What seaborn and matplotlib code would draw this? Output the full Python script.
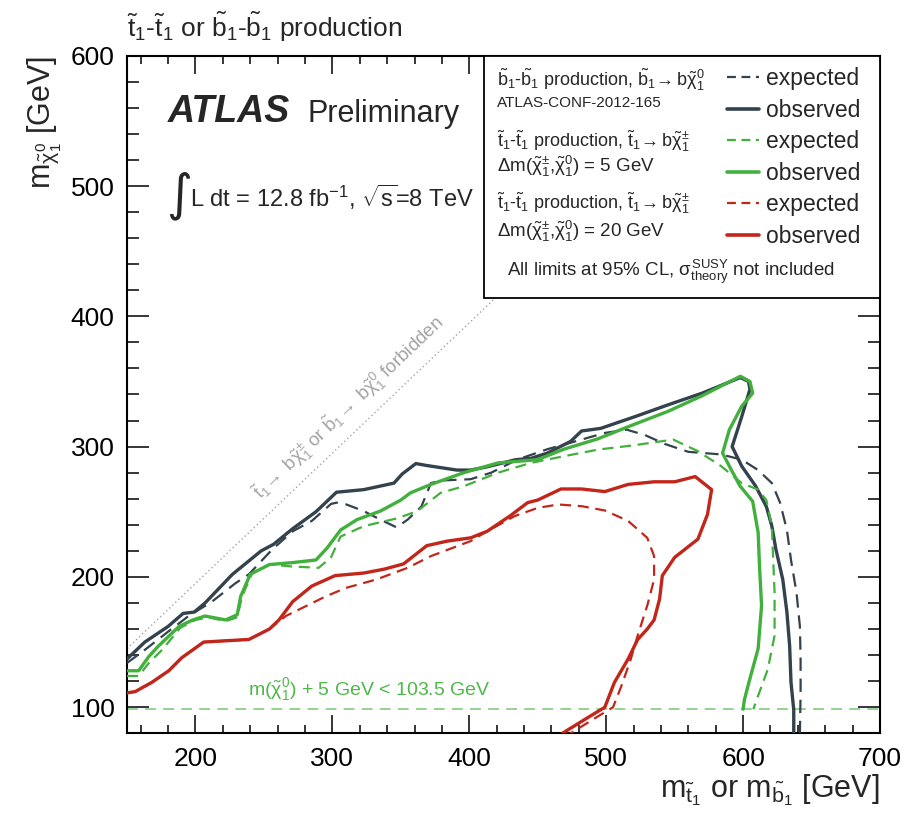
import numpy as np
import pandas as pd
import matplotlib
matplotlib.use("Agg")
import matplotlib.pyplot as plt
from matplotlib.lines import Line2D
from matplotlib.patches import Rectangle
from matplotlib.ticker import MultipleLocator
import seaborn as sns

# ---- exclusion contours (m_stop/m_sbottom [GeV], m_LSP [GeV]) ----
sb_obs_x = [150, 163, 180, 191, 199, 207, 227, 248, 257, 271, 288, 303, 323, 345, 351, 361, 369,
            391, 401, 413, 434, 445, 457, 474, 482, 496, 521, 545, 570, 598, 604, 605, 599, 592,
            599, 609, 617, 621, 624, 629, 632, 634, 635, 637, 637]
sb_obs_y = [137, 150, 162, 172, 173, 180, 202, 220, 225, 237, 250, 265, 267, 272, 279, 287, 285.5,
            282, 282, 284.5, 290, 291, 295, 304, 312, 314, 323, 332, 341, 353, 350, 344, 323, 300,
            285, 270, 254, 239, 221, 198, 173, 147, 119, 98, 80]

sb_exp_x = [150, 163, 180, 195, 212, 229, 239, 256, 271, 285, 299, 303, 308, 323, 335, 347, 355,
            365, 372, 379, 401, 416, 435, 457, 474, 499, 515, 528, 543, 560, 584, 599, 611, 621,
            627, 632, 635, 639, 641.5, 642, 642, 641.5]
sb_exp_y = [134, 144, 158, 170, 181, 195, 202, 221, 235, 243, 256, 257, 256.5, 250.5, 244, 238, 244,
            254, 272, 274, 275, 280, 290, 298, 303, 310.5, 313, 309, 302, 296, 294, 290, 282, 272,
            257, 236, 213, 188, 162, 137, 111, 80]

t5_obs_x = [150, 158.5, 166, 173, 188, 198, 207, 222, 230.5, 233, 240, 254, 271, 288, 296, 306, 318,
            335, 350, 357, 372, 396, 421, 450, 469, 494, 519, 545, 570, 598, 605, 607, 599, 590,
            585, 591.5, 597.6, 607, 611, 612, 613.5, 611, 605, 601, 600]
t5_obs_y = [128, 128, 139, 147, 162, 167, 170, 167, 171, 185, 202, 209.5, 211, 213, 222, 236, 244,
            250.5, 259, 264.5, 271, 280, 287.5, 290, 298, 306, 316.5, 327, 339, 354, 350, 341, 331,
            313, 295, 282, 270, 258, 234, 208, 178, 145, 122, 106, 98.5]

t5_exp_x = [150, 158.5, 166, 175.6, 189, 200, 210, 222, 230.5, 234, 241.5, 254, 271, 290, 299, 306,
            323, 347.5, 362, 379, 396, 421, 445, 469, 494, 520, 549, 567, 584, 599, 611, 617, 621,
            622, 623, 623, 618, 610, 607.5]
t5_exp_y = [124, 124, 134, 144, 161, 167, 169, 166, 169, 185, 203, 209.5, 208, 207, 215, 231,
            239, 245, 250.5, 264.5, 269.6, 280, 287.5, 292.6, 297.7, 301, 305.4, 296.5, 285, 272,
            267, 259, 239, 213, 188, 155, 129, 106, 98.5]

t20_obs_x = [150, 156, 168, 180.5, 190, 206, 222, 239, 254, 261, 271, 285, 302, 323, 338, 352, 369,
             384, 401, 413, 430, 442.6, 450, 467, 482, 499, 516, 535, 550, 565, 577, 574, 567, 550,
             541, 539, 535, 530, 523, 516, 506, 499, 486.5, 468]
t20_obs_y = [111, 112, 119, 128, 138, 150, 151, 152, 160, 167, 181, 193, 201, 203, 206, 210, 224,
             227.5, 230, 235, 247, 257, 259, 267.5, 267.5, 265.5, 271, 273, 273, 277, 267, 248, 229,
             215, 201, 183, 167, 160, 152, 137, 119, 100, 92, 80]

t20_exp_x = [150, 156, 168, 180.5, 190, 206, 222, 239, 254, 266, 280.5, 295, 310, 332, 355, 372,
             401, 411, 433, 450, 465, 482, 499, 516, 530, 535, 535, 530, 523, 518, 511, 505, 494,
             474]
t20_exp_y = [111, 112, 119, 128, 138, 150, 151, 152, 160, 170, 177.5, 185, 191.6, 198, 207, 216,
             227.5, 233.8, 246.6, 253, 255.6, 254.3, 251, 243, 230, 216, 198, 178, 155, 137, 116,
             100, 93, 80]

lep_limit = 98.5          # m(chi0) + 5 GeV < 103.5 GeV
kin_offset = 5            # kinematic boundary m_LSP = m_sq - 5 GeV

x_ticks = [200, 300, 400, 500, 600, 700]
y_ticks = [100, 200, 300, 400, 500, 600]

# ---- style ----
sns.set_style("ticks")
plt.rcParams.update({
    "font.family": ["Liberation Sans", "DejaVu Sans"],
    "mathtext.fontset": "custom",
    "mathtext.rm": "Liberation Sans",
    "mathtext.it": "Liberation Sans",
    "mathtext.sf": "Liberation Sans",
    "mathtext.bf": "Liberation Sans:bold",
    "axes.linewidth": 1.5,
})

DARK = "#33424c"
GREEN = "#42b03c"
RED = "#c2261a"
LIGHTGREEN = "#8ccf86"
GRAY = "#a3a3a3"

fig = plt.figure(figsize=(9.08, 8.15), dpi=100)
ax = fig.add_axes([127 / 908, 1 - 733.3 / 815, 753 / 908, 677.6 / 815])

curves = [
    (sb_obs_x, sb_obs_y, DARK, 2.4, "-"),
    (sb_exp_x, sb_exp_y, DARK, 1.6, (0, (6, 3.5))),
    (t5_obs_x, t5_obs_y, GREEN, 2.4, "-"),
    (t5_exp_x, t5_exp_y, GREEN, 1.6, (0, (5, 3))),
    (t20_obs_x, t20_obs_y, RED, 2.4, "-"),
    (t20_exp_x, t20_exp_y, RED, 1.6, (0, (5, 3))),
]
for xs, ys, col, lw, ls in curves:
    df = pd.DataFrame({"m_sq": xs, "m_lsp": ys})
    sns.lineplot(data=df, x="m_sq", y="m_lsp", sort=False, estimator=None,
                 color=col, linewidth=lw, linestyle=ls, ax=ax, zorder=3)

# LEP limit and kinematic boundary
ax.axhline(lep_limit, color=LIGHTGREEN, lw=1.3, ls=(0, (6, 4)), zorder=2)
xb = np.array([150, 700])
ax.plot(xb, xb - kin_offset, color=GRAY, lw=1.0, ls=(0, (1, 2)), zorder=2)

ax.set_xlim(150, 700)
ax.set_ylim(80, 600)
ax.set_xticks(x_ticks)
ax.set_yticks(y_ticks)
ax.xaxis.set_minor_locator(MultipleLocator(20))
ax.yaxis.set_minor_locator(MultipleLocator(20))
ax.tick_params(which="both", direction="in", top=True, right=True, width=1.1,
               labelsize=19, colors="black")
ax.tick_params(axis="x", which="major", length=13, pad=10)
ax.tick_params(axis="x", which="minor", length=6)
ax.tick_params(axis="y", which="major", length=16, pad=9)
ax.tick_params(axis="y", which="minor", length=8.5)
ax.set_xlabel("")
ax.set_ylabel("")
for s in ax.spines.values():
    s.set_visible(True)
    s.set_color("black")

# axis titles
ax.text(1.0, -0.094, r"m$_{\tilde{t}_1}$ or m$_{\tilde{b}_1}$ [GeV]", transform=ax.transAxes,
        ha="right", va="baseline", fontsize=22)
ax.text(-0.109, 1.0, r"m$_{\tilde{\chi}_1^0}$ [GeV]", transform=ax.transAxes,
        ha="center", va="top", rotation=90, fontsize=22)
fig.text(127 / 908, 1 - 36.7 / 815,
         r"$\tilde{t}_1$-$\tilde{t}_1$ or $\tilde{b}_1$-$\tilde{b}_1$ production",
         fontsize=19, va="baseline")

# experiment labels
ax.text(0.0545, 0.902, "ATLAS", transform=ax.transAxes, fontsize=27,
        fontweight="bold", fontstyle="italic", va="baseline")
ax.text(0.24, 0.902, "Preliminary", transform=ax.transAxes, fontsize=22, va="baseline")
ax.text(0.052, 0.794, "\u222b", transform=ax.transAxes, fontsize=36,
        family="DejaVu Sans", va="center")
ax.text(0.0837, 0.777, r"L dt = 12.8 fb$^{-1}$, $\sqrt{\mathrm{s}}$=8 TeV",
        transform=ax.transAxes, fontsize=17, va="baseline")

# boundary annotations
ang = np.degrees(np.arctan2(1.305, 1.3655))
ax.text(312, 330, r"$\tilde{t}_1\!\rightarrow$ b$\tilde{\chi}_1^{\pm}$ or $\tilde{b}_1\!\rightarrow$ b$\tilde{\chi}_1^0$ forbidden",
        rotation=ang, rotation_mode="anchor", ha="center", va="center",
        fontsize=13.5, color=GRAY)
ax.text(238.6, 113.8, r"m($\tilde{\chi}_1^0$) + 5 GeV < 103.5 GeV", fontsize=14,
        color="#4db848", va="center")

# legend panel
ax.add_patch(Rectangle((0.4735, 0.642), 0.5265, 0.358, transform=ax.transAxes,
                       facecolor="white", edgecolor="black", lw=1.3, zorder=4))
tx = 0.491
panel = [
    (0.9641, r"$\tilde{b}_1$-$\tilde{b}_1$ production, $\tilde{b}_1\!\rightarrow$b$\tilde{\chi}_1^0$", 13),
    (0.9298, "ATLAS-CONF-2012-165", 11),
    (0.8731, r"$\tilde{t}_1$-$\tilde{t}_1$ production, $\tilde{t}_1\!\rightarrow$b$\tilde{\chi}_1^{\pm}$", 13),
    (0.8362, r"$\Delta$m($\tilde{\chi}_1^{\pm}$,$\tilde{\chi}_1^0$) = 5 GeV", 13.5),
    (0.7821, r"$\tilde{t}_1$-$\tilde{t}_1$ production, $\tilde{t}_1\!\rightarrow$b$\tilde{\chi}_1^{\pm}$", 13),
    (0.7403, r"$\Delta$m($\tilde{\chi}_1^{\pm}$,$\tilde{\chi}_1^0$) = 20 GeV", 13.5),
]
for yy, s, fs in panel:
    ax.text(tx, yy, s, transform=ax.transAxes, fontsize=fs, va="center", zorder=6)
ax.text(0.505, 0.6813, r"All limits at 95% CL, $\sigma^{\mathrm{SUSY}}_{\mathrm{theory}}$ not included",
        transform=ax.transAxes, fontsize=13.5, va="center", zorder=6)

handles = [
    Line2D([], [], color=DARK, lw=1.6, ls=(0, (4, 2.5))),
    Line2D([], [], color=DARK, lw=2.6),
    Line2D([], [], color=GREEN, lw=1.6, ls=(0, (4, 2.5))),
    Line2D([], [], color=GREEN, lw=2.6),
    Line2D([], [], color=RED, lw=1.6, ls=(0, (4, 2.5))),
    Line2D([], [], color=RED, lw=2.6),
]
labels = ["expected", "observed"] * 3
leg = ax.legend(handles, labels, loc="upper left", bbox_to_anchor=(0.797, 0.9826),
                frameon=False, fontsize=16.5, handlelength=1.4, handletextpad=0.3,
                labelspacing=0.37, borderpad=0, borderaxespad=0)
leg.set_zorder(6)

fig.savefig("out.png", dpi=100)
